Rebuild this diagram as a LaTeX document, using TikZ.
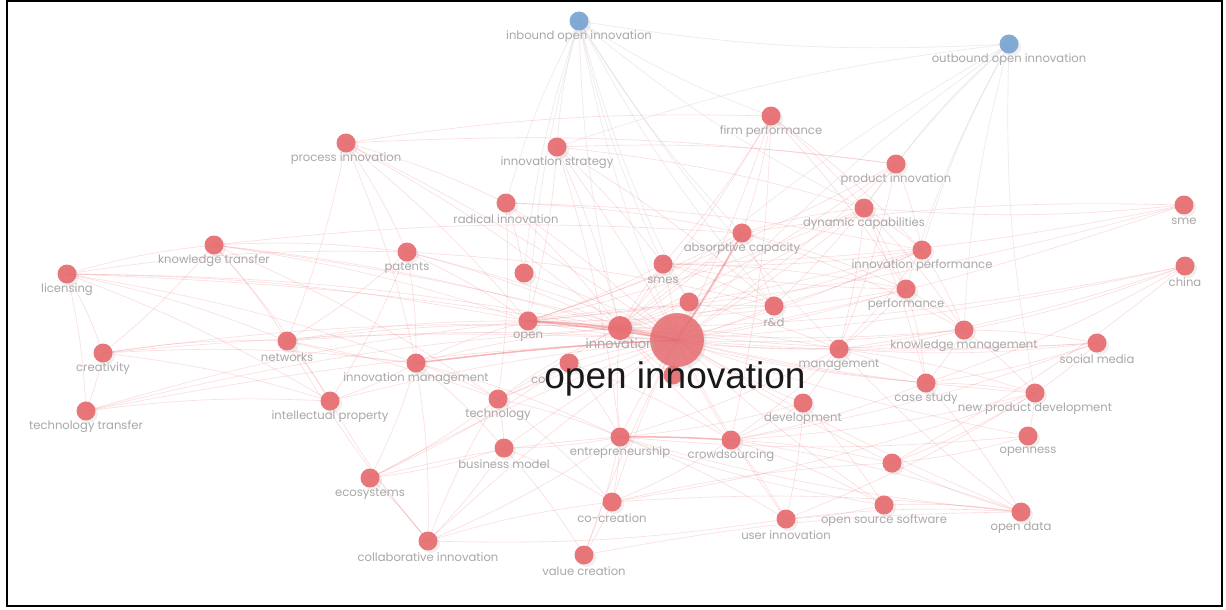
\documentclass[tikz,border=0pt]{standalone}
\usepackage{fontspec}
\newfontfamily\lblfont{Poppins}
\newfontfamily\bigfont{Liberation Sans}
\usetikzlibrary{shadows}
\definecolor{nodered}{RGB}{231,108,112}
\definecolor{nodeblue}{RGB}{120,164,210}
\definecolor{edgered}{RGB}{236,112,116}
\definecolor{edgegray}{RGB}{215,195,200}
\definecolor{lblgray}{RGB}{168,168,168}
\definecolor{bigtext}{RGB}{25,25,25}
\pgfdeclarelayer{bglayer}
\pgfdeclarelayer{edgelayer}
\pgfdeclarelayer{toplayer}
\pgfsetlayers{bglayer,edgelayer,main,toplayer}
\tikzset{
  rn/.style={circle, fill=nodered, fill opacity=0.92, minimum size=19pt, inner sep=0pt,
     drop shadow={opacity=0.12, shadow xshift=2.5pt, shadow yshift=-2.5pt}},
  bn/.style={rn, fill=nodeblue},
  hub/.style={rn, minimum size=54pt, fill opacity=0.85},
  midn/.style={rn, minimum size=24pt},
  lbl/.style={font=\lblfont\fontsize{11.6}{12}\selectfont, text=lblgray, inner sep=0pt},
  bigl/.style={font=\bigfont\fontsize{37}{40}\selectfont, text=bigtext, inner sep=0pt},
  e/.style={draw=edgered, draw opacity=0.24, line width=0.6pt},
  eh/.style={draw=edgered, draw opacity=0.5, line width=1.5pt},
  eb/.style={draw=edgegray, draw opacity=0.35, line width=0.7pt},
  frame/.style={draw=black, line width=2pt}
}
\begin{document}
\begin{tikzpicture}[x=1pt, y=-1pt]
\begin{pgfonlayer}{bglayer}
\fill[white] (0,0) rectangle (1226,610);
\end{pgfonlayer}
\useasboundingbox (0,0) rectangle (1226,610);
% nodes
\node[bn] (inb) at (579,21) {};
\node[bn] (outb) at (1009,44) {};
\foreach \n/\x/\y in {fp/771/116, pi/346/143, is/557/147, pd/896/164, rad/506/203,
  dyn/864/208, sme/1184/205, abs/742/233, kt/214/245, pat/407/252, ip/922/250,
  smes/663/264, u1/524/273, china/1185/266, lic/67/274, perf/906/289, u2/689/302,
  rd/774/306, open/528/321, km/964/330, net/287/341, sm/1097/343,
  man/839/349, cre/103/353, im/416/363, co/569/363, u4/673/375, tech/498/399,
  case/926/383, dev/803/403, npd/1035/393, ipr/330/401, tt/86/411, ent/620/437,
  crowd/731/440, bm/504/448, opn/1028/436, u3/892/463, eco/370/478, cocr/612/502,
  oss/884/505, user/786/519, od/1021/512, ci/428/541, vc/584/555}
  \node[rn] (\n) at (\x,\y) {};
\node[midn] (inn) at (620,328) {};
\node[hub] (oi) at (677,340) {};
% edges
\begin{pgfonlayer}{edgelayer}
\foreach \n in {fp,pi,is,pd,rad,dyn,sme,abs,kt,pat,ip,smes,u1,china,lic,perf,u2,rd,open,km,net,sm,man,cre,co,u4,tech,case,dev,npd,ipr,tt,ent,crowd,bm,opn,u3,eco,cocr,oss,user,od,ci,vc}
  \draw[e] (\n.center) to[bend left=4] (oi.center);
\foreach \a/\b in {inn/oi, open/inn, im/oi, ent/crowd, abs/oi, open/oi}
  \draw[eh] (\a.center) to[bend left=2] (\b.center);
\foreach \a/\b in {lic/kt, lic/cre, lic/tt, lic/net, lic/ipr, lic/pat, lic/inn, lic/open, lic/im,
  kt/pat, kt/net, kt/inn, kt/open, kt/cre, kt/ipr, kt/tech, kt/abs,
  cre/tt, cre/net, cre/inn, cre/im, cre/ipr, tt/ipr, tt/inn, tt/open,
  pi/fp, pi/pd, pi/net, pi/open, pi/inn, pi/rad, pi/im, pi/pat,
  is/inn, is/open, is/smes, is/rd, is/pd, is/dyn, is/ent,
  rad/u1, rad/inn, rad/ip, rad/abs, rad/tech,
  pat/ipr, pat/inn, pat/open, pat/im, pat/rd, pat/net,
  fp/abs, fp/smes, fp/dyn, fp/ip, fp/inn, fp/perf, fp/crowd,
  abs/sme, abs/dyn, abs/inn, abs/rd, abs/perf, abs/km, abs/tech, abs/open,
  dyn/inn, dyn/ip, dyn/perf, dyn/km, dyn/man, dyn/case, dyn/open,
  pd/ip, pd/rd, pd/man, pd/inn, pd/open,
  ip/km, ip/rd, ip/man, ip/smes, ip/open, ip/inn,
  smes/inn, smes/rd, smes/perf, smes/u2, smes/open,
  china/km, china/case, china/u3, china/man, china/inn,
  sme/dyn, sme/smes, sme/open,
  perf/km, perf/man, perf/case, perf/smes, perf/open,
  km/sm, km/npd, km/man, km/case, km/inn,
  sm/man, sm/case, sm/npd, sm/inn, sm/crowd,
  man/case, man/npd, man/dev, man/ent, man/crowd, man/open,
  case/npd, case/od, case/crowd, case/inn,
  npd/opn, npd/u3, npd/crowd, npd/user, npd/cocr,
  opn/u3, opn/ent,
  im/net, im/ipr, im/tech, im/bm, im/ent, im/ci, im/eco, im/inn, im/open,
  co/tech, co/eco, co/ent, co/crowd,
  tech/eco, tech/ent, tech/bm, tech/cocr, tech/inn,
  dev/ent, dev/crowd, dev/user, dev/oss,
  ent/cocr, ent/bm, ent/vc, ent/ci, ent/user, ent/inn,
  crowd/user, crowd/cocr, crowd/oss, crowd/od, crowd/u3, crowd/inn,
  bm/vc, bm/cocr, bm/eco, bm/ci,
  eco/ci, eco/ent, cocr/vc, cocr/u3, cocr/od,
  oss/od, oss/user, oss/ent, user/od, user/ci, vc/od,
  ci/net, ci/ipr, ci/tech, ci/cocr,
  od/u3, od/ent, od/man,
  net/inn, net/open, net/ipr, net/tech,
  inn/rd, inn/man, inn/smes, open/rd, u2/inn, u2/man, u4/inn}
  \draw[e] (\a.center) to[bend left=5] (\b.center);
\foreach \a/\b in {inb/outb, inb/fp, inb/is, inb/smes, inb/open, inb/inn, inb/oi,
  inb/abs, inb/u1, inb/man, inb/dyn, inb/rad, inb/u2, inb/rd,
  outb/pd, outb/dyn, outb/ip, outb/perf, outb/oi, outb/km, outb/npd, outb/is, outb/inn}
  \draw[eb] (\a.center) to[bend right=6] (\b.center);
\end{pgfonlayer}
% labels
\begin{pgfonlayer}{toplayer}
\foreach \n/\t in {inb/inbound open innovation, outb/outbound open innovation,
  fp/firm performance, pi/process innovation, is/innovation strategy,
  pd/product innovation, rad/radical innovation, dyn/dynamic capabilities,
  sme/sme, abs/absorptive capacity, kt/knowledge transfer, pat/patents,
  ip/innovation performance, smes/smes, china/china, lic/licensing,
  perf/performance, rd/r\&d, open/open, km/knowledge management,
  net/networks, sm/social media, man/management, cre/creativity,
  im/innovation management, tech/technology, case/case study,
  dev/development, npd/new product development, ipr/intellectual property,
  tt/technology transfer, ent/entrepreneurship, crowd/crowdsourcing,
  bm/business model, opn/openness, eco/ecosystems, cocr/co-creation,
  oss/open source software, user/user innovation, od/open data,
  ci/collaborative innovation, vc/value creation}
  \node[lbl] (\n-l) at ([yshift=-16pt]\n.center) {\t};
\node[lbl] (inn-l) at ([yshift=-16pt]inn.center) {\fontsize{13}{14}\selectfont innovation};
\node[lbl, anchor=west] (co-l) at (531,380) {co};
\node[bigl] (oi-l) at (675,379) {open innovation};
\end{pgfonlayer}
\draw[frame] (7,1) rectangle (1222,606);
\end{tikzpicture}
\end{document}
